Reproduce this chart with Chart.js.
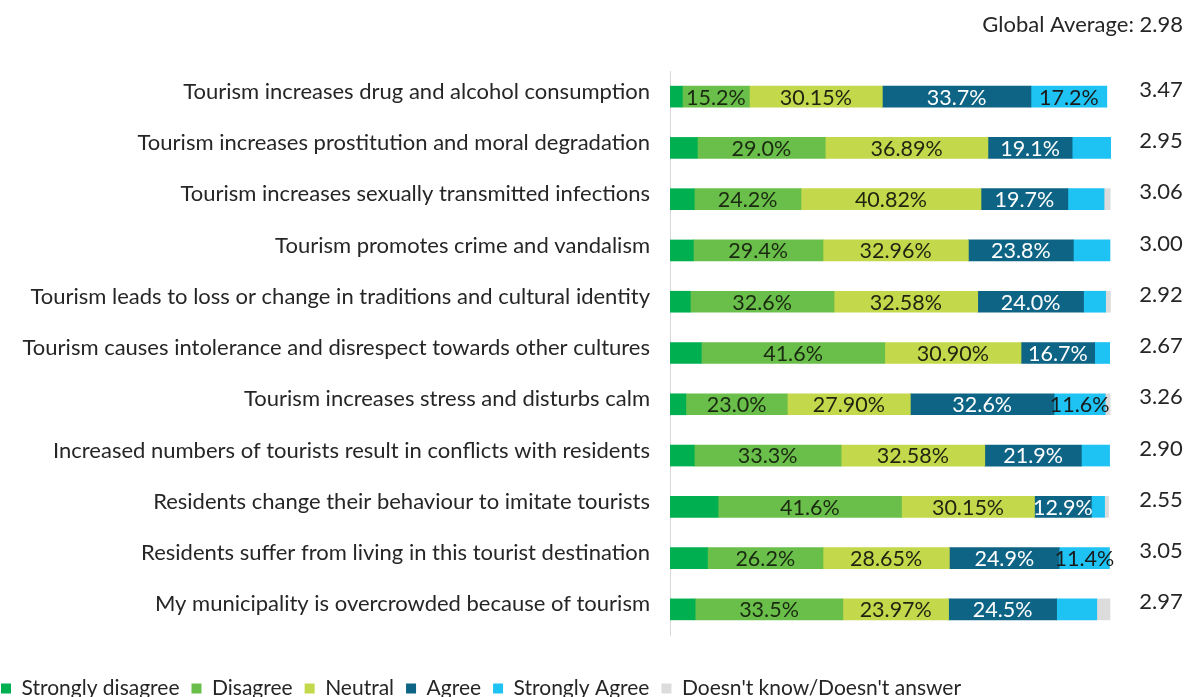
<!DOCTYPE html>
<html>
<head>
<meta charset="utf-8">
<script src="https://cdn.jsdelivr.net/npm/chart.js@4"></script>
<style>
  html, body { margin: 0; padding: 0; background: #fff; }
  #wrap { width: 1186px; height: 697px; position: relative; }
</style>
</head>
<body>
<div id="wrap"><canvas id="chart"></canvas></div>
<script>
// Statements (categories)
const statements = [
    "Tourism increases drug and alcohol consumption",
    "Tourism increases prostitution and moral degradation",
    "Tourism increases sexually transmitted infections",
    "Tourism promotes crime and vandalism",
    "Tourism leads to loss or change in traditions and cultural identity",
    "Tourism causes intolerance and disrespect towards other cultures",
    "Tourism increases stress and disturbs calm",
    "Increased numbers of tourists result in conflicts with residents",
    "Residents change their behaviour to imitate tourists",
    "Residents suffer from living in this tourist destination",
    "My municipality is overcrowded because of tourism"
];

// Shares of answers (%)
const stronglyDisagree = [2.8, 6.2, 5.5, 5.3, 4.6, 7.1, 3.6, 5.5, 10.9, 8.5, 5.7];
const disagree        = [15.2, 29.0, 24.2, 29.4, 32.6, 41.6, 23.0, 33.3, 41.6, 26.2, 33.5];
const neutral         = [30.15, 36.89, 40.82, 32.96, 32.58, 30.90, 27.90, 32.58, 30.15, 28.65, 23.97];
const agree           = [33.7, 19.1, 19.7, 23.8, 24.0, 16.7, 32.6, 21.9, 12.9, 24.9, 24.5];
const stronglyAgree   = [17.2, 8.9, 8.2, 8.3, 5.0, 3.4, 11.6, 6.4, 3.0, 11.4, 9.1];
const dontKnow        = [0, 0, 1.4, 0, 1.1, 0, 1.1, 0, 0.9, 0, 3.0];

// which "Strongly Agree" segments carry a label
const showStronglyAgree = [true, false, false, false, false, false, true, false, false, true, false];

// Mean score per statement
const averages = ["3.47", "2.95", "3.06", "3.00", "2.92", "2.67", "3.26", "2.90", "2.55", "3.05", "2.97"];
const globalAverage = "2.98";

const FONT = "Lato, 'Open Sans', sans-serif";
const TEXT = "#262626";

// Draws the values inside the bars, the averages and the global average
const labelPlugin = {
    id: "labels",
    afterDatasetsDraw(chart) {
        const ctx = chart.ctx;
        const area = chart.chartArea;
        ctx.save();
        ctx.font = "21.5px " + FONT;
        ctx.textAlign = "center";
        ctx.textBaseline = "middle";

        chart.data.datasets.forEach((ds, di) => {
            if (!ds.showLabel) return;
            const meta = chart.getDatasetMeta(di);
            meta.data.forEach((bar, i) => {
                if (di === 4 && !showStronglyAgree[i]) return;
                const v = ds.data[i];
                const x = (bar.base + bar.x) / 2;
                ctx.fillStyle = ds.labelColor;
                ctx.fillText(v.toFixed(ds.decimals) + "%", x, bar.y + 1);
            });
        });

        // averages on the right
        const meta0 = chart.getDatasetMeta(0);
        ctx.fillStyle = TEXT;
        ctx.font = "22px " + FONT;
        meta0.data.forEach((bar, i) => {
            ctx.fillText(averages[i], area.right + 50, bar.y - 7);
        });

        ctx.textAlign = "right";
        ctx.fillText("Global Average: " + globalAverage, chart.width - 3, 25);
        ctx.restore();
    }
};

const ctx = document.getElementById("chart").getContext("2d");
new Chart(ctx, {
    type: "bar",
    data: {
        labels: statements,
        datasets: [
            { label: "Strongly disagree", data: stronglyDisagree, backgroundColor: "#00b050" },
            { label: "Disagree", data: disagree, backgroundColor: "#6abf4b", showLabel: true, decimals: 1, labelColor: "#1a2a10" },
            { label: "Neutral", data: neutral, backgroundColor: "#c3d84a", showLabel: true, decimals: 2, labelColor: "#1f2410" },
            { label: "Agree", data: agree, backgroundColor: "#0e6485", showLabel: true, decimals: 1, labelColor: "#ffffff" },
            { label: "Strongly Agree", data: stronglyAgree, backgroundColor: "#1ec3f3", showLabel: true, decimals: 1, labelColor: "#1a1a1a" },
            { label: "Doesn't know/Doesn't answer", data: dontKnow, backgroundColor: "#dcdcdc" }
        ]
    },
    options: {
        indexAxis: "y",
        responsive: true,
        maintainAspectRatio: false,
        animation: false,
        datasets: { bar: { barThickness: 21 } },
        layout: { padding: { top: 71, right: 75, left: -11, bottom: -12 } },
        scales: {
            x: {
                stacked: true,
                min: 0,
                max: 100,
                grid: { display: false },
                border: { display: false },
                ticks: { display: false },
                afterFit(scale) { scale.height = 31; }
            },
            y: {
                stacked: true,
                grid: { display: false },
                border: { display: true, color: "#d9d9d9", width: 1 },
                ticks: {
                    color: TEXT,
                    font: { family: FONT, size: 22 },
                    padding: 12,
                    labelOffset: -5,
                    autoSkip: false
                },
                afterFit(scale) { scale.width = 681; }
            }
        },
        plugins: {
            legend: {
                position: "bottom",
                align: "start",
                labels: {
                    color: TEXT,
                    font: { family: FONT, size: 21 },
                    boxWidth: 10,
                    boxHeight: 10,
                    padding: 12
                }
            },
            tooltip: { enabled: false }
        }
    },
    plugins: [labelPlugin]
});
</script>
</body>
</html>
